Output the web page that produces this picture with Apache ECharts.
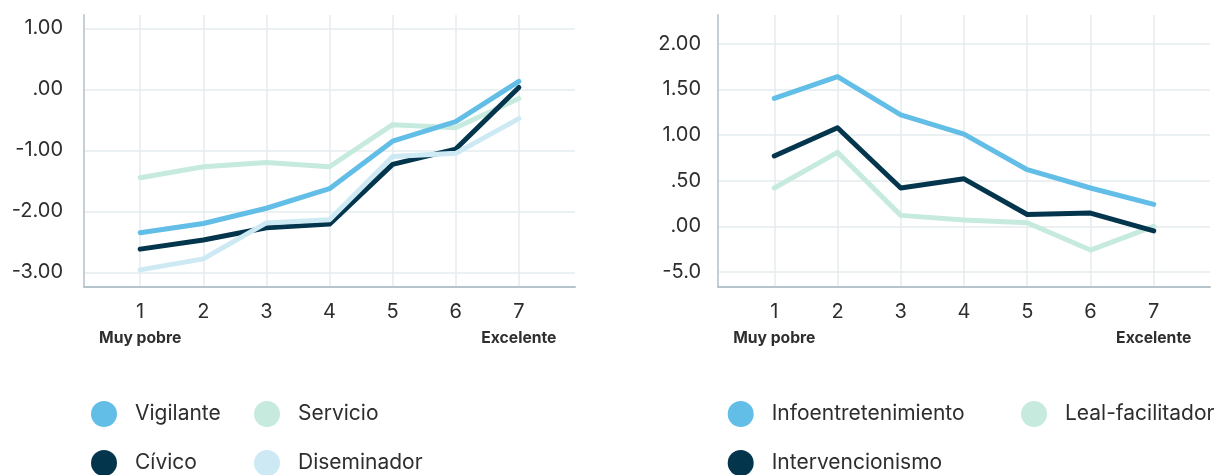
<!DOCTYPE html>
<html>
<head>
<meta charset="utf-8">
<script src="https://cdn.jsdelivr.net/npm/echarts@6/dist/echarts.min.js"></script>
<style>
html,body{margin:0;padding:0;background:#fff;}
#chart{width:1217px;height:475px;}
</style>
</head>
<body>
<div id="chart"></div>
<script>
// ---- data ----
const categories = [1, 2, 3, 4, 5, 6, 7];
const categoryNotes = { 1: 'Muy pobre', 7: 'Excelente' };

const leftTickValues = [1, 0, -1, -2, -3];
const leftTickLabels = ['1.00', '.00', '-1.00', '-2.00', '-3.00'];
const rightTickValues = [2, 1.5, 1, 0.5, 0, -0.5];
const rightTickLabels = ['2.00', '1.50', '1.00', '.50', '.00', '-5.0'];

const vigilante   = [-2.35, -2.20, -1.95, -1.63, -0.85, -0.53, 0.13];
const servicio    = [-1.45, -1.27, -1.20, -1.27, -0.58, -0.63, -0.15];
const civico      = [-2.62, -2.47, -2.27, -2.21, -1.23, -0.98, 0.03];
const diseminador = [-2.96, -2.78, -2.19, -2.14, -1.10, -1.05, -0.48];

const infoentretenimiento = [1.40, 1.64, 1.22, 1.01, 0.62, 0.42, 0.24];
const intervencionismo    = [0.77, 1.08, 0.42, 0.52, 0.13, 0.145, -0.05];
const lealFacilitador     = [0.42, 0.81, 0.12, 0.07, 0.04, -0.26, 0.00];

// ---- styles ----
const C_BLUE = '#62bee6', C_DARK = '#03364d', C_MINT = '#c6ebde', C_LIGHT = '#cce9f4';
const FONT = 'Inter';
const TEXT = '#2e2e2e';
const GRIDC = '#e4ebef';
const AXISC = '#b5c3ca';

function pairs(arr) { return categories.map((c, i) => [c, arr[i]]); }

function xAxisCfg(gridIndex) {
  return {
    type: 'value', gridIndex, min: 0.11, max: 7.89,
    axisLine: { show: true, onZero: false, lineStyle: { color: AXISC, width: 2 } },
    axisTick: { show: false, customValues: categories },
    splitLine: { show: true, lineStyle: { color: GRIDC, width: 1.5 } },
    axisLabel: {
      customValues: categories, margin: 13,
      color: TEXT, fontFamily: FONT, fontSize: 20, lineHeight: 24,
      formatter: v => categoryNotes[v] ? v + '\n{b|' + categoryNotes[v] + '}' : String(v),
      rich: { b: { fontFamily: FONT, fontSize: 15.7, fontWeight: 'bold', color: TEXT, lineHeight: 30 } }
    }
  };
}
function yAxisCfg(gridIndex, min, max, vals, labs, margin, padTop) {
  return {
    type: 'value', gridIndex, min, max,
    axisLine: { show: true, onZero: false, lineStyle: { color: '#c5d0d6', width: 2 } },
    axisTick: { show: false, customValues: vals },
    splitLine: { show: true, lineStyle: { color: GRIDC, width: 1.5 } },
    axisLabel: {
      customValues: vals, margin, color: TEXT, fontFamily: FONT, fontSize: 20,
      padding: [padTop, 0, 0, 0],
      formatter: v => { const i = vals.findIndex(t => Math.abs(t - v) < 1e-9); return i >= 0 ? labs[i] : ''; }
    }
  };
}
function line(name, data, color, xi) {
  return {
    name, type: 'line', xAxisIndex: xi, yAxisIndex: xi, data: pairs(data),
    symbol: 'none', lineStyle: { color, width: 5, cap: 'round', join: 'round' },
    itemStyle: { color }, animation: false
  };
}
function legendItem(name, left, top) {
  return {
    data: [name], left, top, orient: 'horizontal', padding: 0,
    icon: 'circle', itemWidth: 26, itemHeight: 26,
    textStyle: { fontFamily: FONT, fontSize: 21, color: TEXT, padding: [0, 0, 0, 13] },
    selectedMode: false
  };
}

const chart = echarts.init(document.getElementById('chart'), null, { renderer: 'canvas' });
chart.setOption({
  backgroundColor: '#ffffff',
  animation: false,
  grid: [
    { left: 84, right: 642, top: 15, bottom: 188.3 },
    { left: 718, right: 7, top: 15, bottom: 188.3 }
  ],
  xAxis: [xAxisCfg(0), xAxisCfg(1)],
  yAxis: [
    yAxisCfg(0, -3.236, 1.218, leftTickValues, leftTickLabels, 21, 2),
    yAxisCfg(1, -0.661, 2.314, rightTickValues, rightTickLabels, 17, 5)
  ],
  legend: [
    legendItem('Vigilante', 91, 401),
    legendItem('Cívico', 91, 450),
    legendItem('Servicio', 254, 401),
    legendItem('Diseminador', 254, 450),
    legendItem('Infoentretenimiento', 727.7, 401),
    legendItem('Intervencionismo', 727.7, 450),
    legendItem('Leal-facilitador', 1021, 401)
  ],
  series: [
    line('Servicio', servicio, C_MINT, 0),
    line('Cívico', civico, C_DARK, 0),
    line('Diseminador', diseminador, C_LIGHT, 0),
    line('Vigilante', vigilante, C_BLUE, 0),
    line('Leal-facilitador', lealFacilitador, C_MINT, 1),
    line('Intervencionismo', intervencionismo, C_DARK, 1),
    line('Infoentretenimiento', infoentretenimiento, C_BLUE, 1)
  ]
});
</script>
</body>
</html>
